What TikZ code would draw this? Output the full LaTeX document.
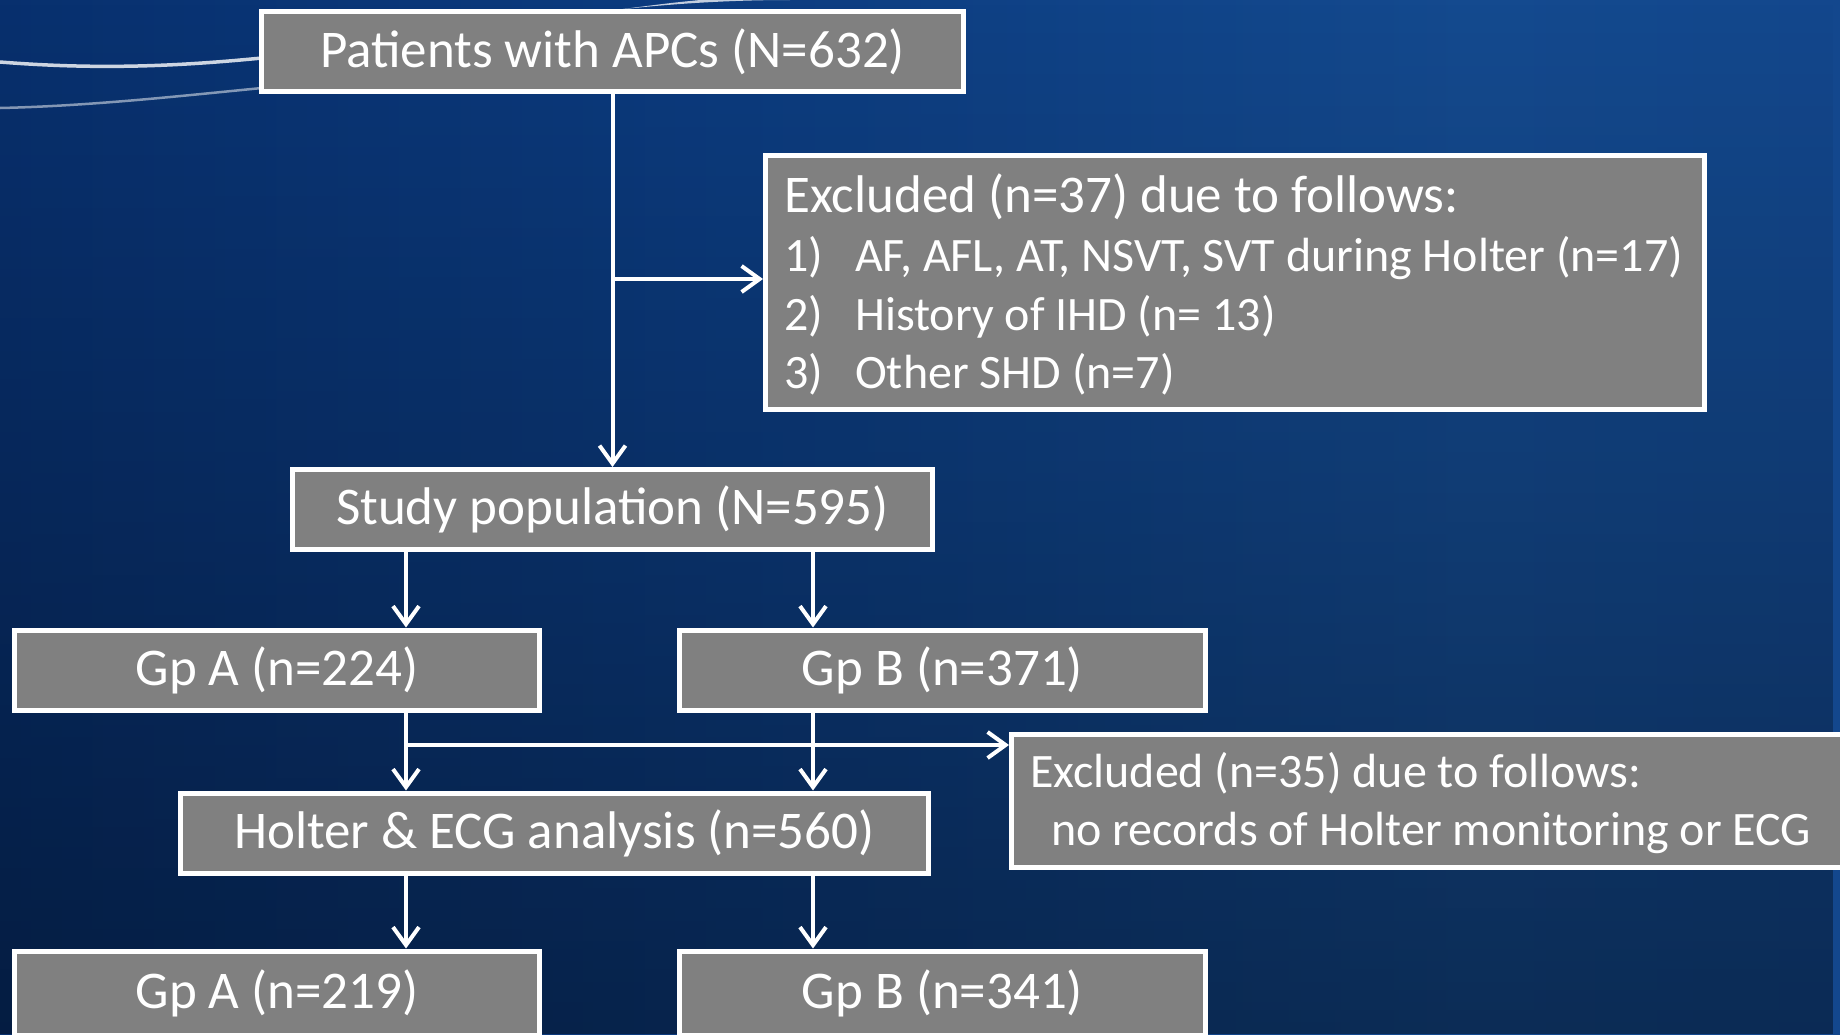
\documentclass[tikz,border=0pt]{standalone}
\usepackage{fontspec}
\setmainfont{Carlito}
\usetikzlibrary{arrows.meta,fadings}
\definecolor{bgA}{HTML}{000A2E}
\definecolor{bgB}{HTML}{021A50}
\definecolor{bgC}{HTML}{08306E}
\definecolor{bgD}{HTML}{0C3C80}
\definecolor{bgE}{HTML}{144A8F}
\definecolor{bgF}{HTML}{11448A}
\definecolor{bgG}{HTML}{0C3878}
\definecolor{boxgray}{HTML}{808080}
\pgfdeclarehorizontalshading{bgshade}{100bp}{color(0bp)=(bgA); color(10bp)=(bgB); color(25bp)=(bgC); color(45bp)=(bgD); color(65bp)=(bgE); color(85bp)=(bgF); color(100bp)=(bgG)}
\tikzfading[name=fadedown, top color=transparent!100, bottom color=transparent!0]
\newcommand{\smallitem}{\fontsize{48}{58.7}\selectfont}
\begin{document}
\begin{tikzpicture}[x=1pt,y=-1pt,
  flowbox/.style={draw=white, line width=5pt, fill=boxgray, text=white, inner sep=0pt,
    minimum height=80pt, font=\fontsize{53}{58.7}\selectfont},
  boxtext/.style={text=white, inner sep=0pt, anchor=west, align=left, font=\fontsize{53}{58.7}\selectfont},
  arr/.style={draw=white, line width=4pt, -{Straight Barb[length=18pt,width=26pt]}},
  streak/.style={draw=white, line cap=round}]
\useasboundingbox (0,0) rectangle (1840,1034);
\shade[shading=bgshade] (0,0) rectangle (1840,1034);
\fill[black, path fading=fadedown, opacity=0.4] (0,0) rectangle (1840,1034);
% streaks
\draw[streak, line width=3.5pt, opacity=0.8] (0,62) .. controls (100,70) and (180,66) .. (262,58);
\draw[streak, line width=2.5pt, opacity=0.5] (0,108) .. controls (90,106) and (180,96) .. (262,88);
\fill[white, opacity=0.75] (615,10) .. controls (660,5) and (720,0) .. (790,0) -- (700,0) .. controls (670,3) .. (615,10) -- cycle;
% nodes
\node[flowbox, minimum width=702pt] (pat) at (612.5,51.5) {Patients with APCs (N=632)};
\node[flowbox, minimum width=939pt, minimum height=254pt] (ex1) at (1235,282.5) {};
\node[boxtext] (ex1t) at (784,289)
  {\begin{tabular}{@{}p{71pt}@{}l@{}}
   \multicolumn{2}{@{}l@{}}{Excluded (n=37) due to follows:}\\
   \smallitem 1) & \smallitem AF, AFL, AT, NSVT, SVT during Holter (n=17)\\
   \smallitem 2) & \smallitem History of IHD (n= 13)\\
   \smallitem 3) & \smallitem Other SHD (n=7)
   \end{tabular}};
\node[flowbox, minimum width=640pt] (sp) at (612.5,509.5) {Study population (N=595)};
\node[flowbox, minimum width=525pt] (ga1) at (277,670) {Gp A (n=224)};
\node[flowbox, minimum width=526pt] (gb1) at (942.5,670) {Gp B (n=371)};
\node[flowbox, minimum width=748pt] (ho) at (554.5,833) {Holter \& ECG analysis (n=560)};
\node[flowbox, minimum width=850pt, minimum height=133pt] (ex2) at (1436.5,801) {};
\node[boxtext, font=\smallitem] (ex2t) at (1030,803)
  {Excluded (n=35) due to follows:\\\hspace*{21pt}no records of Holter monitoring or ECG};
\node[flowbox, minimum width=525pt, minimum height=84pt] (ga2) at (277,993) {Gp A (n=219)};
\node[flowbox, minimum width=526pt, minimum height=84pt] (gb2) at (942.5,993) {Gp B (n=341)};
% connectors
\coordinate (cL) at (406,0);
\coordinate (cR) at (813,0);
\coordinate (br1) at (612,279);
\coordinate (br2) at (406,745);
\draw[arr] (pat.south) -- (sp.north);
\draw[arr] (br1) -- (br1 -| ex1.west);
\draw[arr] (sp.south -| cL) -- (ga1.north -| cL);
\draw[arr] (sp.south -| cR) -- (gb1.north -| cR);
\draw[arr] (ga1.south -| cL) -- (ho.north -| cL);
\draw[arr] (gb1.south -| cR) -- (ho.north -| cR);
\draw[arr] (br2) -- (br2 -| ex2.west);
\draw[arr] (ho.south -| cL) -- (ga2.north -| cL);
\draw[arr] (ho.south -| cR) -- (gb2.north -| cR);
\end{tikzpicture}
\end{document}
